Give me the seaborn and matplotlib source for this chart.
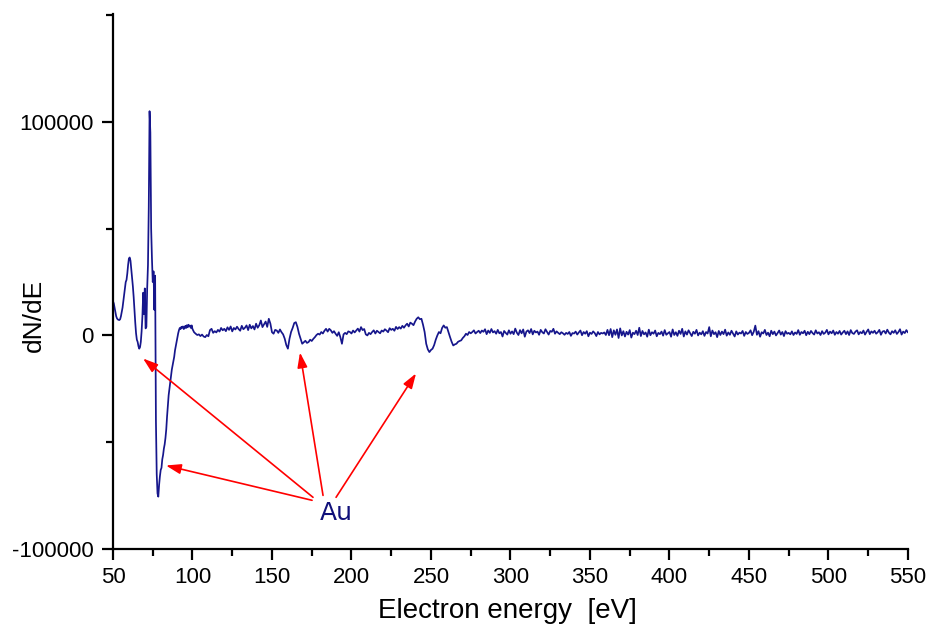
import numpy as np
import pandas as pd
import matplotlib
matplotlib.use("Agg")
import matplotlib.pyplot as plt
from matplotlib.ticker import MultipleLocator
import seaborn as sns

# ---- data (dN/dE in units of 1000 counts) ----
# fine region 50.0 .. 100.0 eV, step 0.5 eV
energy_fine = np.arange(50.0, 100.01, 0.5)
dNdE_fine_k = [
    16, 15, 13, 11, 9, 8, 7.5, 7.3, 7.2, 7.6,
    9, 11, 13, 16, 19, 22, 25, 26, 29, 33,
    36, 36.5, 35, 31, 27, 23, 18, 12, 6, 1,
    -2, -3, -5, -6.2, -5.5, -3, 2, 9, 20, 10,
    22, 3.3, 4, 22, 33, 60, 105, 95, 50, 36,
    25, 30, 12, 28, -40, -65, -74, -75.5, -70, -66,
    -63, -62, -58, -56, -53, -51, -48, -44, -38, -33,
    -28, -25, -22, -19, -16, -14, -12, -10, -7, -5,
    -3, -1, 1, 2.5, 3.5, 3, 4, 3.6, 4.2, 3,
    3.4, 4.5, 3.5, 4.8, 3.8, 5, 4.2, 4.6, 3.5, 4.7,
    3,
]
# coarse region 101 .. 550 eV, step 1 eV
energy_coarse = np.arange(101, 551, 1)
dNdE_coarse_k = [
    1.5, 0.8, 0.2, 0.5, -0.3, 0.4, -0.5, -0.8, 0.2, -0.4,
    2.5, 3.1, 1.2, 2.0, 1.4, 2.6, 1.8, 3.5, 2.4, 3.1,
    2.0, 3.8, 2.6, 4.2, 1.9, 3.5, 2.8, 4.1, 3.0, 2.2,
    4.5, 2.9, 3.6, 4.7, 2.5, 5.0, 3.3, 4.4, 2.8, 5.5,
    3.6, 4.8, 7.0, 3.9, 5.2, 6.5, 4.0, 7.8, 5.5, 1.5,
    0.8, 2.6, 2.3, 1.2, 2.8, 1.5, 0.5, -1.5, -4.5, -6.2,
    -1.6, 1.6, 3.5, 5.8, 6.2, 4.0, 0.8, -1.5, -3.9, -3.2,
    -2.5, -3.5, -3.1, -2.0, -2.6, -1.6, -0.8, 0.2, 0.8, 0.4,
    1.6, 0.9, 2.2, 3.1, 1.8, 3.1, 2.4, 1.2, 2.0, 0.8,
    -0.2, 1.5, -0.8, -3.9, 0.5, 1.2, 0.6, 1.9, 1.6, 0.9,
    2.3, 1.4, 2.3, 3.2, 1.8, 3.9, 2.5, 3.0, 0.5, 0.0,
    1.2, 0.6, 1.6, 2.4, 0.9, 2.2, 1.6, 1.0, 2.3, 1.8,
    2.9, 2.3, 1.5, 3.4, 2.6, 3.1, 2.2, 4.0, 3.0, 3.9,
    3.2, 4.5, 3.6, 4.7, 5.5, 4.2, 6.0, 5.5, 4.8, 6.5,
    7.8, 8.5, 7.6, 7.8, 5.0, 1.6, -3.9, -6.5, -7.8, -6.8,
    -6.2, -4.5, -2.0, 0.0, 1.6, 1.0, 3.5, 4.7, 3.6, 3.9,
    1.5, -0.8, -3.0, -4.7, -4.2, -3.9, -3.0, -2.6, -2.3, -1.2,
    -0.4, 0.8, 0.2, 1.6, 1.0, 1.6, 2.4, 0.9, 1.6, 2.2,
    1.1, 2.3, 1.7, 2.9, 0.6, 2.3, 1.2, 3.0, 1.4, 2.0,
    0.8, 2.6, 1.0, 1.6, -0.5, 2.1, 1.2, 0.4, 2.4, 0.8,
    1.9, 0.6, 3.2, 1.3, 0.2, 2.5, 1.0, 2.8, -0.6, 1.8,
    2.4, 1.1, 3.0, 0.5, 2.2, 1.4, 1.8, 0.3, 2.6, 1.5,
    0.9, 2.9, 1.6, 0.4, 2.1, 1.7, 3.1, 0.8, 1.9, 1.2,
    0.6, 1.5, 1.0, 0.3, 1.2, 0.7, 1.6, -0.2, 1.1, 0.9,
    1.8, 0.4, 1.4, 2.3, 0.1, 1.6, 0.8, 2.0, -0.4, 1.3,
    0.7, 1.9, 1.1, -0.3, 1.6, 0.5, 1.2, 0.9, 1.4, 0.2,
    2.6, 0.1, 3.0, -0.8, 2.4, 0.3, 2.8, -1.2, 3.3, 0.0,
    2.0, -0.5, 1.7, 0.4, 2.5, -1.0, 1.3, 0.6, 2.2, 0.2,
    3.6, -0.3, 2.1, 0.5, 1.4, -0.6, 2.7, 0.1, 1.5, 0.8,
    2.3, -0.4, 1.2, 0.6, 1.8, -0.1, 2.5, 0.3, 1.0, 1.6,
    -0.6, 2.8, 0.2, 1.5, -0.2, 2.2, 0.7, 3.1, -0.5, 1.9,
    0.4, 2.4, 1.0, -0.3, 1.7, 0.8, 2.6, 0.0, 1.3, 0.5,
    2.0, -0.2, 1.6, 0.9, 3.9, -0.4, 2.3, 0.6, 1.5, -0.8,
    2.1, 0.2, 1.8, 0.6, 2.7, -0.1, 1.4, 0.3, 2.2, 0.8,
    -0.5, 1.9, 0.4, 1.3, 0.9, 2.1, -0.2, 1.6, 0.7, 1.2,
    2.4, 0.1, 1.7, 4.6, 0.3, 2.0, -0.6, 1.5, 0.9, 2.6,
    0.2, 1.3, -0.4, 2.2, 0.6, 1.8, 0.0, 1.1, 2.3, 0.4,
    1.6, -0.3, 2.0, 0.8, 1.2, 0.5, 1.9, 0.2, 1.4, 0.7,
    2.5, 0.3, 1.6, 1.0, 2.2, 0.1, 1.7, 0.6, 2.1, 1.1,
    0.4, 2.4, 0.9, 1.5, 0.2, 2.0, 0.7, 1.3, 2.6, 0.5,
    1.8, 1.0, 2.3, 0.3, 1.6, 0.8, 2.1, 0.4, 1.4, 2.2,
    0.6, 1.9, 0.2, 2.5, 1.1, 0.7, 1.8, 2.4, 0.5, 1.6,
    1.0, 2.3, 0.4, 1.7, 2.8, 0.6, 1.9, 1.2, 2.2, 0.8,
    1.5, 2.6, 0.3, 1.8, 2.1, 0.9, 2.7, 1.3, 0.5, 2.0,
    1.2, 2.4, 0.7, 1.6, 2.9, 0.4, 1.8, 1.1, 2.5, 1.4,
]

# annotation: label and arrow targets (energy, dN/dE)
label_text = "Au"
label_pos = (190.5, -83000)
arrow_heads_x = [68.9, 83.3, 167.6, 240.6]
arrow_heads_y = [-10800, -60900, -8000, -17800]
arrow_tails_x = [175.8, 175.2, 182.1, 190.3]
arrow_tails_y = [-75800, -77200, -74900, -75800]

x_ticks = [50, 100, 150, 200, 250, 300, 350, 400, 450, 500, 550]
y_ticks = [-100000, 0, 100000]

energy = np.concatenate([energy_fine, energy_coarse])
dNdE = np.array(dNdE_fine_k + dNdE_coarse_k) * 1000.0
df = pd.DataFrame({"energy": energy, "dNdE": dNdE})

# ---- style ----
sns.set_style("ticks")
plt.rcParams["font.family"] = ["Liberation Sans", "DejaVu Sans"]
plt.rcParams["text.color"] = "black"
plt.rcParams["axes.labelcolor"] = "black"

fig = plt.figure(figsize=(9.3, 6.29), dpi=100)
ax = fig.add_axes([0.1215, 0.1272, 0.9763 - 0.1215, 0.9777 - 0.1272])

line_color = "#16168c"
sns.lineplot(data=df, x="energy", y="dNdE", ax=ax, color=line_color,
             linewidth=1.25, estimator=None, sort=False)

for hx, hy, tx, ty in zip(arrow_heads_x, arrow_heads_y, arrow_tails_x, arrow_tails_y):
    ax.annotate("", xy=(hx, hy), xytext=(tx, ty),
                arrowprops=dict(arrowstyle="-|>,head_length=0.9,head_width=0.3",
                                color="#ff0000", lw=1.2, shrinkA=0, shrinkB=0))
ax.text(label_pos[0], label_pos[1], label_text, color="#10107a",
        fontsize=18, ha="center", va="center", family=["DejaVu Sans"])

ax.set_xlim(50, 550)
ax.set_ylim(-100000, 150500)
ax.set_xticks(x_ticks)
ax.set_yticks(y_ticks)
ax.set_xticklabels([str(v) for v in x_ticks])
ax.set_yticklabels([str(v) for v in y_ticks])
ax.xaxis.set_minor_locator(MultipleLocator(25))
ax.yaxis.set_minor_locator(MultipleLocator(50000))

ax.set_xlabel("Electron energy  [eV]", fontsize=20, color="black")
ax.set_ylabel("dN/dE", fontsize=19, color="black")
ax.xaxis.set_label_coords(0.496, -0.092)
ax.yaxis.set_label_coords(-0.085, 0.437)

for side in ["top", "right"]:
    ax.spines[side].set_visible(False)
for side in ["left", "bottom"]:
    ax.spines[side].set_linewidth(1.6)
    ax.spines[side].set_color("black")

ax.tick_params(axis="both", which="major", direction="out", length=8,
               width=1.6, labelsize=16, colors="black", labelcolor="black")
ax.tick_params(axis="x", which="major", pad=5)
ax.tick_params(axis="y", which="major", pad=6)
ax.tick_params(axis="both", which="minor", direction="out", length=5,
               width=1.6, colors="black")
ax.grid(False)

fig.savefig("out.png", dpi=100, facecolor="white")
